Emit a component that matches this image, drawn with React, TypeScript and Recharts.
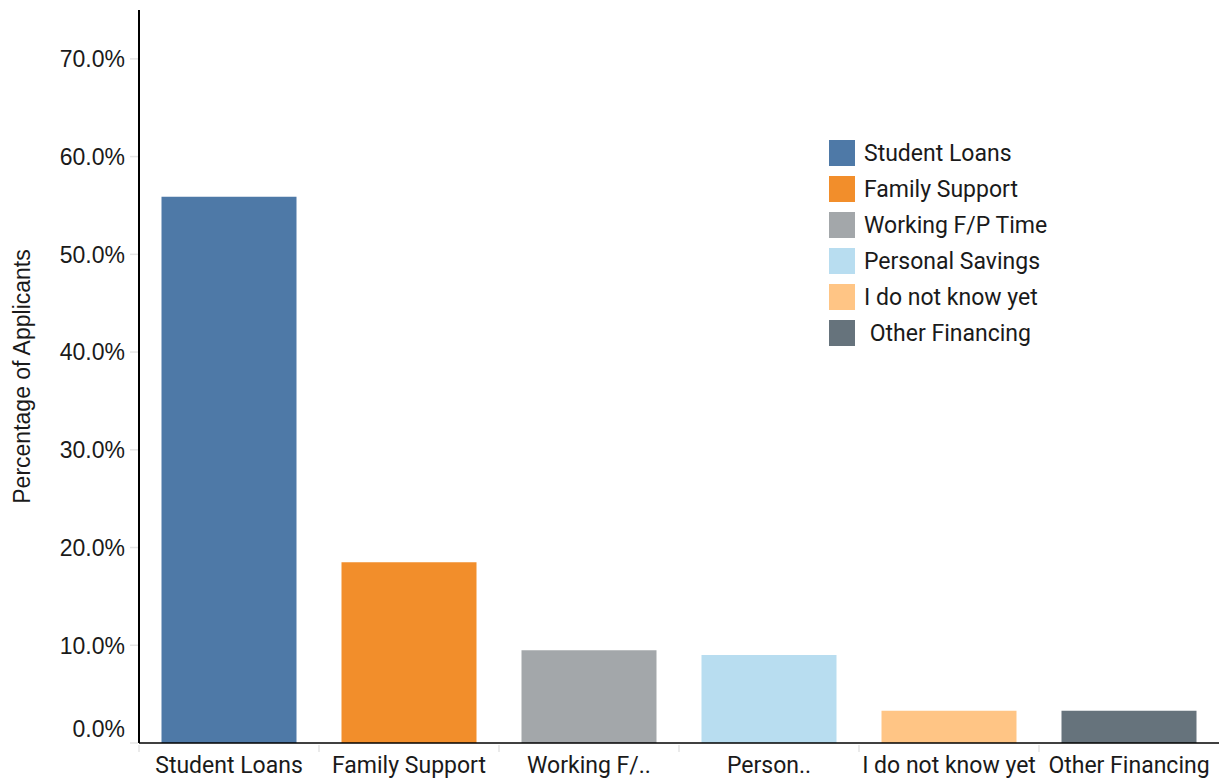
import { BarChart, Bar, XAxis, YAxis, Cell, Legend } from 'recharts';

const categories = ['Student Loans', 'Family Support', 'Working F/..', 'Person..', 'I do not know yet', 'Other Financing'];
const legendLabels = ['Student Loans', 'Family Support', 'Working F/P Time', 'Personal Savings', 'I do not know yet', ' Other Financing'];
const shares = [55.9, 18.5, 9.5, 9.0, 3.3, 3.3];
const colors = ['#4e79a7', '#f28e2b', '#a3a7aa', '#b8ddf0', '#ffc585', '#66737c'];
const yTicks = [0, 10, 20, 30, 40, 50, 60, 70];

const W = 1219;
const H = 780;
const Y_AXIS_W = 139;
const X_AXIS_H = 37;
const TOP = 10;

const data = categories.map((c, i) => ({ name: c, share: shares[i] }));
const band = (W - Y_AXIS_W) / categories.length;

function XTick(props: any) {
  const { x, y, payload } = props;
  return (
    <g>
      <line x1={x - band / 2} x2={x - band / 2} y1={y + 2} y2={y + 9} stroke="#e4e4e4" strokeWidth={1.5} />
      <text x={x} y={y + 30} textAnchor="middle" fontFamily="Roboto" fontSize={23} fill="#1a1a1a">
        {payload.value}
      </text>
    </g>
  );
}

function YTick(props: any) {
  const { x, y, payload } = props;
  const shift = payload.value === 0 ? -14 : 0;
  return (
    <g>
      <line x1={x - 9} x2={x - 1} y1={y} y2={y} stroke="#e4e4e4" strokeWidth={1.5} />
      <text x={x - 14} y={y + shift} dy="0.36em" textAnchor="end" fontFamily="'Liberation Sans', Arial" fontSize={23} fill="#1a1a1a">
        {payload.value.toFixed(1)}%
      </text>
    </g>
  );
}

function YLabel(props: any) {
  const { viewBox } = props;
  const cx = viewBox.x + 22;
  const cy = viewBox.y + viewBox.height / 2;
  return (
    <text x={cx} y={cy} transform={`rotate(-90, ${cx}, ${cy})`} textAnchor="middle" dominantBaseline="central"
      fontFamily="'Liberation Sans', Arial" fontSize={23} fill="#1a1a1a">
      Percentage of Applicants
    </text>
  );
}

function LegendBox() {
  return (
    <div style={{ fontFamily: 'Roboto', fontSize: 23, color: '#1a1a1a' }}>
      {legendLabels.map((l, i) => (
        <div key={l} style={{ display: 'flex', alignItems: 'center', height: 36 }}>
          <div style={{ width: 26, height: 26, background: colors[i], marginRight: 9 }} />
          <span style={{ whiteSpace: 'pre' }}>{l}</span>
        </div>
      ))}
    </div>
  );
}

export default function App() {
  return (
    <div style={{ position: 'absolute', left: 0, top: 0, width: W, height: H, background: '#fff' }}>
      <BarChart width={W} height={H} data={data} margin={{ top: TOP, right: 0, left: 0, bottom: 0 }} barCategoryGap="12.5%">
        <XAxis dataKey="name" height={X_AXIS_H} interval={0} tickLine={false} tickSize={0} tickMargin={0}
          axisLine={{ stroke: '#000', strokeWidth: 1.5 }} tick={<XTick />} />
        <YAxis width={Y_AXIS_W} domain={[0, 75]} ticks={yTicks} tickLine={false} tickSize={0} tickMargin={0}
          axisLine={{ stroke: '#000', strokeWidth: 2 }} tick={<YTick />} label={<YLabel />} />
        <Legend verticalAlign="middle" align="center" layout="vertical" content={() => <LegendBox />}
          wrapperStyle={{ left: 829, top: 135, width: 260 }} />
        <Bar dataKey="share" isAnimationActive={false}>
          {data.map((d, i) => (
            <Cell key={d.name} fill={colors[i]} />
          ))}
        </Bar>
      </BarChart>
    </div>
  );
}
